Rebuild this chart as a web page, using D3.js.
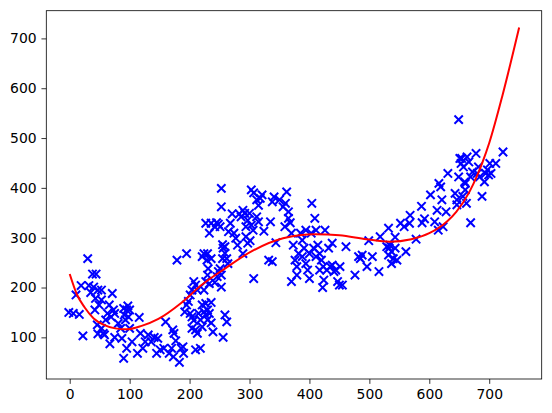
<!DOCTYPE html>
<html>
<head>
<meta charset="utf-8">
<script src="https://cdn.jsdelivr.net/npm/d3@7"></script>
<style>
  body { margin: 0; background: #fff; }
  svg { display: block; }
</style>
</head>
<body>
<script>
// scatter points
var xs = [-1.5, 6, 10.5, 16, 19, 22, 30, 32, 35, 38, 44, 40, 43, 47, 53, 53, 49, 42, 46, 47,
  53, 56, 58, 60, 63, 66, 71, 69, 73, 75, 67, 75, 81, 85, 87, 90, 91, 93, 95, 97,
  98, 100, 90, 95, 100, 104, 116, 118, 113, 122, 126, 131, 136, 141, 145, 147, 151, 157, 160, 166,
  170, 172, 174, 177, 173, 183, 186, 189, 190, 179, 195, 192, 198, 201, 195, 204, 207, 210, 213, 201,
  204, 207, 204, 210, 213, 210, 218, 215, 218, 221, 221, 224, 227, 230, 227, 230, 233, 236, 239, 236,
  224, 227, 230, 231, 229, 221, 224, 230, 236, 233, 242, 246, 248, 251, 253, 253, 256, 259, 262, 259,
  233, 227, 236, 242, 245, 248, 251, 253, 253, 255, 256, 259, 262, 264, 255,
  265, 268, 271, 274, 277, 280, 283, 286, 289, 292, 294, 297, 300, 303, 306, 294, 297, 301, 289, 303,
  307, 312, 315, 318, 321, 324, 307, 315, 312, 335, 338, 332, 338, 344, 350, 356, 360, 362, 365, 368,
  365, 359, 341,
  370, 373, 376, 379, 370, 379, 382, 385, 388, 391, 394, 397, 400, 403, 404, 407, 409, 411, 414, 417,
  420, 423, 426, 429, 432, 435, 438, 438, 441, 444, 422, 424, 447, 450, 451, 455, 461, 417, 400, 394,
  388, 411,
  476, 482, 485, 488, 496, 499, 505, 516, 518, 532, 533, 534, 537, 537, 540, 543, 543, 546, 552, 558,
  561, 567, 568, 578, 532, 529,
  587, 588, 592, 602, 609, 613, 615, 616, 619, 621, 623, 631, 628, 643, 646, 649, 651, 653, 654, 657,
  659, 660, 662, 663, 666, 669, 672, 669, 678, 680, 682, 684, 688, 692, 694, 697, 699, 701, 703, 711,
  723, 656, 660, 646, 649];
var ys = [150, 148, 185, 146, 204, 103, 258, 204, 190, 227, 227, 201, 178, 195, 195, 175, 165, 155, 125, 107,
  118, 108, 105, 135, 148, 165, 188, 141, 155, 148, 87, 100, 128, 118, 98, 158, 145, 135, 155, 163,
  141, 155, 58, 78, 118, 91, 140, 108, 68, 78, 91, 105, 91, 100, 68, 98, 75, 78, 131, 68,
  78, 115, 108, 93, 61, 50, 78, 81, 68, 255, 268, 151, 172, 185, 165, 195, 212, 205, 195, 148,
  141, 134, 118, 115, 108, 75, 78, 148, 135, 121, 165, 151, 145, 155, 168, 135, 148, 170, 111, 129,
  195, 212, 225, 238, 255, 262, 268, 268, 258, 208, 210, 222, 232, 238, 225, 201, 100, 145, 131, 282,
  309, 329, 329, 322, 330, 327, 322, 399, 362, 286, 279, 269, 258, 248, 258,
  312, 329, 348, 309, 299, 285, 348, 342, 355, 349, 322, 335, 349, 325, 315, 302, 289, 294, 268, 396,
  390, 376, 365, 379, 386, 313, 218, 332, 342, 332, 372, 255, 252, 290, 376, 362, 369, 392, 352, 330,
  339, 322, 382,
  309, 285, 255, 242, 212, 225, 268, 309, 295, 279, 248, 235, 268, 309, 369, 279, 339, 315, 285, 268,
  255, 242, 315, 235, 279, 242, 245, 289, 232, 235, 200, 215, 212, 205, 242, 205, 282, 235, 218, 315,
  262, 262,
  225, 262, 258, 265, 242, 294, 262, 232, 302, 265, 279, 285, 272, 248, 258, 279, 301, 255, 329, 322,
  272, 329, 345, 297, 319, 282,
  363, 330, 338, 386, 332, 355, 315, 409, 402, 376, 322, 429, 352, 389, 376, 537, 459, 449, 459, 442,
  412, 396, 369, 462, 452, 330, 432, 422, 469, 429, 442, 422, 383, 412, 429, 436, 426, 449, 429, 449,
  472, 383, 409, 366, 422];

// fitted curve
var lineX = [0, 12, 25, 40, 57, 76, 95, 120, 148, 186, 220, 259, 301, 356, 410, 450, 495, 534, 570, 600,
  630, 645, 667, 680, 689, 700, 722, 750];
var lineY = [227, 186, 160, 138, 125, 118, 116, 123, 137, 169, 205, 238, 271, 299, 307, 305, 297, 292, 297, 309,
  333, 352, 392, 425, 452, 490, 585, 722];

var xTicks = [0, 100, 200, 300, 400, 500, 600, 700];
var yTicks = [100, 200, 300, 400, 500, 600, 700];

var w = 552, h = 413;
var margin = {top: 10.7, right: 10.3, bottom: 34, left: 46.3};
var iw = w - margin.left - margin.right;
var ih = h - margin.top - margin.bottom;

var svg = d3.select("body").append("svg")
  .attr("width", w)
  .attr("height", h);

var g = svg.append("g")
  .attr("transform", "translate(" + margin.left + "," + margin.top + ")");

// matplotlib style 5% padding around the data
function padded(vals) {
  var e = d3.extent(vals);
  var p = (e[1] - e[0]) * 0.05;
  return [e[0] - p, e[1] + p];
}

var x = d3.scaleLinear()
  .domain(padded(xs.concat(lineX)))
  .range([0, iw]);
var y = d3.scaleLinear()
  .domain(padded(ys.concat(lineY)))
  .range([ih, 0]);

var tickLen = 4.86, tickPad = 4.86;

var xAxis = g.append("g")
  .attr("transform", "translate(0," + ih + ")")
  .call(d3.axisBottom(x).tickValues(xTicks).tickSize(tickLen).tickPadding(tickPad).tickSizeOuter(0));
var yAxis = g.append("g")
  .call(d3.axisLeft(y).tickValues(yTicks).tickSize(tickLen).tickPadding(tickPad).tickSizeOuter(0));

[xAxis, yAxis].forEach(function(a) {
  a.select(".domain").remove();
  a.selectAll("line").attr("stroke", "#000").attr("stroke-width", 0.8);
  a.selectAll("text")
    .attr("fill", "#000")
    .style("font-family", "'DejaVu Sans', sans-serif")
    .style("font-size", "13.9px");
});

// scatter markers
var ms = 4.17;
g.append("g")
  .selectAll("path")
  .data(xs.map(function(d, i) { return [d, ys[i]]; }))
  .enter()
  .append("path")
    .attr("transform", function(d) { return "translate(" + x(d[0]) + "," + y(d[1]) + ")"; })
    .attr("d", "M" + (-ms) + "," + (-ms) + "L" + ms + "," + ms + "M" + (-ms) + "," + ms + "L" + ms + "," + (-ms))
    .attr("stroke", "#0000ff")
    .attr("stroke-width", 2)
    .attr("fill", "none");

// red curve
var line = d3.line()
  .x(function(d) { return x(d[0]); })
  .y(function(d) { return y(d[1]); })
  .curve(d3.curveMonotoneX);

g.append("path")
  .datum(lineX.map(function(d, i) { return [d, lineY[i]]; }))
  .attr("d", line)
  .attr("fill", "none")
  .attr("stroke", "#ff0000")
  .attr("stroke-width", 2);

// frame
g.append("rect")
  .attr("width", iw)
  .attr("height", ih)
  .attr("fill", "none")
  .attr("stroke", "#000")
  .attr("stroke-width", 0.8);
</script>
</body>
</html>
